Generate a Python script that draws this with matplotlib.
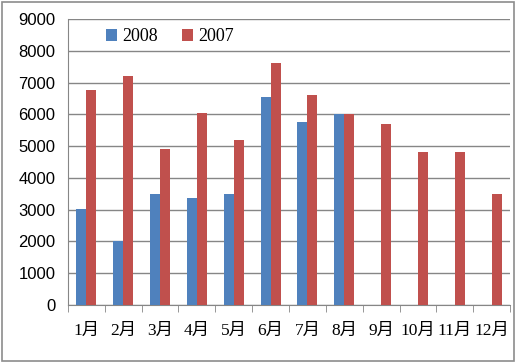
import numpy as np
import matplotlib.pyplot as plt
from matplotlib.patches import Rectangle

months = ['1月', '2月', '3月', '4月', '5月', '6月', '7月', '8月', '9月', '10月', '11月', '12月']
sales_2008 = [3030, 2000, 3500, 3380, 3500, 6550, 5750, 6000, 0, 0, 0, 0]
sales_2007 = [6750, 7200, 4900, 6050, 5200, 7620, 6620, 6000, 5700, 4800, 4820, 3500]

blue = '#4F81BD'
red = '#C0504D'
cjk = ['Liberation Serif', 'Noto Sans CJK SC']

fig = plt.figure(figsize=(5.17, 3.63), dpi=100)
ax = fig.add_axes([0.1315, 0.1598, 0.855, 0.788])

x = np.arange(len(months))
w = 0.27
ax.bar(x - w/2, sales_2008, width=w, color=blue, label='2008', zorder=3)
ax.bar(x + w/2, sales_2007, width=w, color=red, label='2007', zorder=3)

ax.set_xlim(-0.5, 11.5)
ax.set_ylim(0, 9000)
ax.set_yticks(range(0, 9001, 1000))
ax.yaxis.grid(True, color='#868686', linewidth=1)
ax.set_axisbelow(True)
ax.tick_params(axis='y', length=0, pad=9, labelsize=12)
for t in ax.get_yticklabels():
    t.set_family('Liberation Sans')

ax.set_xticks(x)
ax.set_xticklabels(months, family=cjk, fontsize=12.5)
ax.set_xticks(np.arange(-0.5, 12, 1), minor=True)
ax.tick_params(axis='x', which='major', length=0, pad=13)
ax.tick_params(axis='x', which='minor', length=5, color='#868686', direction='out')

for s in ['top', 'right']:
    ax.spines[s].set_visible(False)
ax.spines['left'].set_color('#868686')
ax.spines['bottom'].set_color('#868686')

ax.legend(loc='center left', bbox_to_anchor=(0.05, 0.937), ncol=2, frameon=False,
          handlelength=0.6, handleheight=0.6, columnspacing=1.3,
          handletextpad=0.3, prop={'family': 'Liberation Serif', 'size': 13})

fig.patches.append(Rectangle((0.004, 0.006), 0.99, 0.988, transform=fig.transFigure,
                             fill=False, edgecolor='#8c8c8c', linewidth=1.2))

fig.savefig('out.png', dpi=100)
